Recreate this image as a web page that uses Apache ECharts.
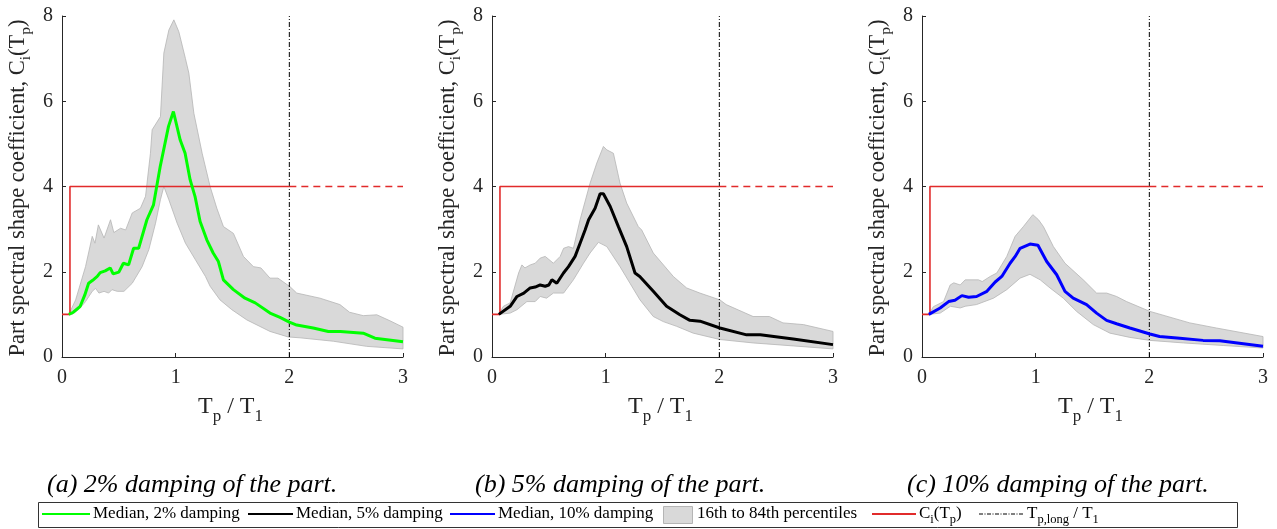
<!DOCTYPE html>
<html>
<head>
<meta charset="utf-8">
<script src="https://cdn.jsdelivr.net/npm/echarts@6/dist/echarts.min.js"></script>
<style>
html,body{margin:0;padding:0;background:#fff;}
#chart{width:1277px;height:529px;}
</style>
</head>
<body>
<div id="chart"></div>
<script>
// ---------- DATA ----------
// Tp/T1 vs. part spectral shape coefficient, pairs [Tp/T1, Ci]
const medianA = [[0.06,1.0],[0.10,1.05],[0.16,1.19],[0.20,1.45],[0.234,1.73],[0.27,1.80],[0.31,1.89],[0.336,1.98],[0.38,2.02],[0.424,2.09],[0.45,1.95],[0.50,1.99],[0.54,2.2],[0.586,2.16],[0.63,2.55],[0.674,2.55],[0.747,3.22],[0.805,3.57],[0.864,4.47],[0.937,5.41],[0.98,5.76],[1.04,5.09],[1.083,4.78],[1.127,4.16],[1.17,3.77],[1.215,3.18],[1.274,2.75],[1.33,2.44],[1.376,2.24],[1.42,1.81],[1.508,1.58],[1.61,1.38],[1.70,1.27],[1.83,1.03],[1.918,0.93],[2.0,0.82],[2.065,0.75],[2.21,0.68],[2.343,0.6],[2.45,0.6],[2.65,0.56],[2.753,0.44],[3.0,0.36]];
const upperA = [[0.06,1.0],[0.12,1.34],[0.207,2.12],[0.266,2.83],[0.29,2.67],[0.32,3.1],[0.37,2.79],[0.427,3.22],[0.456,2.92],[0.515,3.02],[0.56,2.98],[0.618,3.38],[0.69,3.49],[0.735,3.77],[0.778,4.78],[0.793,5.33],[0.866,5.64],[0.896,7.13],[0.94,7.67],[0.984,7.91],[1.028,7.63],[1.086,7.0],[1.116,6.66],[1.16,5.72],[1.233,4.78],[1.303,4.0],[1.362,3.49],[1.42,3.06],[1.508,2.9],[1.596,2.36],[1.684,2.12],[1.75,2.09],[1.83,1.85],[1.9,1.85],[2.006,1.65],[2.065,1.5],[2.27,1.38],[2.445,1.23],[2.53,1.05],[2.65,0.97],[2.77,0.99],[2.885,0.85],[3.0,0.7]];
const lowerA = [[0.06,1.0],[0.09,1.0],[0.15,1.12],[0.207,1.3],[0.266,1.54],[0.295,1.61],[0.325,1.5],[0.37,1.54],[0.41,1.5],[0.44,1.58],[0.486,1.54],[0.545,1.54],[0.618,1.73],[0.705,2.12],[0.764,2.52],[0.823,3.14],[0.866,3.69],[0.896,4.0],[0.94,3.69],[1.013,3.14],[1.086,2.67],[1.174,2.28],[1.262,1.89],[1.303,1.66],[1.39,1.34],[1.494,1.11],[1.626,0.87],[1.83,0.6],[1.99,0.47],[2.094,0.45],[2.387,0.37],[2.68,0.25],[3.0,0.19]];

const medianB = [[0.06,1.0],[0.16,1.19],[0.22,1.42],[0.28,1.5],[0.336,1.62],[0.38,1.64],[0.424,1.69],[0.468,1.66],[0.5,1.69],[0.527,1.81],[0.57,1.73],[0.629,1.97],[0.673,2.12],[0.731,2.36],[0.775,2.67],[0.819,2.98],[0.85,3.22],[0.907,3.49],[0.951,3.83],[0.98,3.83],[1.04,3.53],[1.112,3.06],[1.185,2.59],[1.258,1.97],[1.3,1.89],[1.419,1.54],[1.536,1.19],[1.653,0.99],[1.741,0.86],[1.83,0.84],[2.005,0.68],[2.24,0.52],[2.36,0.52],[2.65,0.42],[3.0,0.29]];
const upperB = [[0.06,1.0],[0.1,1.19],[0.16,1.27],[0.234,1.97],[0.263,2.16],[0.29,2.09],[0.336,2.16],[0.38,2.2],[0.424,2.32],[0.468,2.36],[0.54,2.2],[0.6,2.36],[0.63,2.55],[0.673,2.59],[0.716,2.55],[0.775,3.22],[0.863,4.08],[0.922,4.55],[0.98,4.94],[1.01,4.86],[1.068,4.78],[1.126,4.08],[1.185,3.61],[1.287,3.06],[1.317,2.98],[1.419,2.44],[1.595,1.89],[1.712,1.62],[1.829,1.5],[2.005,1.34],[2.06,1.23],[2.297,0.95],[2.44,0.95],[2.56,0.8],[2.74,0.76],[3.0,0.6]];
const lowerB = [[0.06,1.0],[0.16,1.03],[0.22,1.11],[0.307,1.3],[0.38,1.3],[0.424,1.42],[0.48,1.38],[0.54,1.5],[0.63,1.5],[0.716,1.81],[0.805,2.2],[0.863,2.44],[0.936,2.69],[1.01,2.59],[1.126,2.12],[1.214,1.73],[1.302,1.34],[1.419,0.95],[1.507,0.83],[1.624,0.72],[1.77,0.56],[2.005,0.41],[2.297,0.33],[2.65,0.26],[3.0,0.19]];

const medianC = [[0.06,1.0],[0.16,1.15],[0.234,1.3],[0.29,1.33],[0.351,1.44],[0.41,1.4],[0.48,1.42],[0.571,1.54],[0.644,1.76],[0.702,1.89],[0.775,2.2],[0.82,2.36],[0.863,2.55],[0.95,2.65],[1.02,2.62],[1.097,2.24],[1.185,1.93],[1.258,1.54],[1.33,1.38],[1.448,1.23],[1.536,1.03],[1.624,0.86],[1.712,0.78],[1.829,0.68],[2.005,0.54],[2.09,0.48],[2.268,0.44],[2.473,0.39],[2.62,0.38],[3.0,0.25]];
const upperC = [[0.06,1.0],[0.1,1.18],[0.19,1.3],[0.248,1.69],[0.28,1.74],[0.336,1.69],[0.38,1.81],[0.44,1.81],[0.497,1.81],[0.53,1.77],[0.6,1.89],[0.658,1.97],[0.746,2.36],[0.819,2.83],[0.892,3.06],[0.975,3.34],[1.025,3.22],[1.068,3.06],[1.156,2.59],[1.258,2.2],[1.419,1.81],[1.536,1.5],[1.624,1.5],[1.712,1.42],[1.8,1.3],[2.005,1.07],[2.356,0.8],[2.59,0.68],[3.0,0.48]];
const lowerC = [[0.06,1.0],[0.16,1.03],[0.25,1.19],[0.336,1.15],[0.38,1.19],[0.48,1.23],[0.629,1.38],[0.746,1.58],[0.863,1.85],[0.95,1.94],[1.04,1.81],[1.126,1.62],[1.243,1.38],[1.36,1.07],[1.507,0.76],[1.653,0.56],[1.829,0.46],[2.005,0.39],[2.3,0.33],[2.65,0.27],[3.0,0.21]];

// Ci(Tp) code curve: solid part and dashed extension
const ciSolid = [[0,1],[0.07,1],[0.07,4],[2,4]];
const ciDashed = [[2,4],[3,4]];
const tpLong = 2;

const xTicks = [0, 1, 2, 3];
const yTicks = [0, 2, 4, 6, 8];
const captions = ['(a) 2% damping of the part.', '(b) 5% damping of the part.', '(c) 10% damping of the part.'];
const legendNames = ['Median, 2% damping', 'Median, 5% damping', 'Median, 10% damping', '16th to 84th percentiles'];

// ---------- CHART ----------
const FONT = "'Liberation Serif', 'Times New Roman', serif";
const AX = '#262626';
const panels = [
  {median: medianA, upper: upperA, lower: lowerA, color: '#00ff00', left: 62, cap: 47},
  {median: medianB, upper: upperB, lower: lowerB, color: '#000000', left: 492, cap: 475},
  {median: medianC, upper: upperC, lower: lowerC, color: '#0000ff', left: 922, cap: 907}
];
const PW = 341, TOP = 16, PH = 341;

const grids = [], xAxes = [], yAxes = [], series = [], graphics = [];

panels.forEach((p, i) => {
  grids.push({left: p.left, top: TOP, width: PW, height: PH, containLabel: false});
  xAxes.push({
    gridIndex: i, type: 'value', min: xTicks[0], max: xTicks[xTicks.length - 1], interval: 1,
    axisLine: {lineStyle: {color: AX, width: 1}},
    axisTick: {inside: true, length: 4, lineStyle: {color: AX}},
    axisLabel: {color: AX, fontFamily: FONT, fontSize: 20, margin: 11},
    splitLine: {show: false}
  });
  yAxes.push({
    gridIndex: i, type: 'value', min: yTicks[0], max: yTicks[yTicks.length - 1], interval: 2,
    axisLine: {show: true, lineStyle: {color: AX, width: 1}},
    axisTick: {show: true, inside: true, length: 4, lineStyle: {color: AX}},
    axisLabel: {color: AX, fontFamily: FONT, fontSize: 20, margin: 9},
    splitLine: {show: false}
  });
  const up = p.upper, lo = p.lower;
  series.push({
    type: 'custom', xAxisIndex: i, yAxisIndex: i, silent: true, z: 1,
    data: [[0, 0]],
    renderItem: function (params, api) {
      const pts = up.map(d => api.coord(d)).concat(lo.slice().reverse().map(d => api.coord(d)));
      return {type: 'polygon', shape: {points: pts}, style: {fill: '#d9d9d9', stroke: '#b5b5b5', lineWidth: 0.8}};
    }
  });
  series.push({
    type: 'line', xAxisIndex: i, yAxisIndex: i, z: 2, symbol: 'none', animation: false,
    data: [[tpLong, yTicks[0]], [tpLong, yTicks[yTicks.length - 1]]],
    lineStyle: {color: '#000', width: 1, type: [5, 2, 1, 2]}
  });
  series.push({
    type: 'line', xAxisIndex: i, yAxisIndex: i, z: 3, symbol: 'none', animation: false,
    data: ciSolid, lineStyle: {color: '#e12b2b', width: 1.6}
  });
  series.push({
    type: 'line', xAxisIndex: i, yAxisIndex: i, z: 3, symbol: 'none', animation: false,
    data: ciDashed, lineStyle: {color: '#e12b2b', width: 1.6, type: [7, 5]}
  });
  series.push({
    type: 'line', xAxisIndex: i, yAxisIndex: i, z: 4, symbol: 'none', animation: false,
    data: p.median, lineStyle: {color: p.color, width: 3}
  });

  // y-axis title (rotated)
  graphics.push({
    type: 'text', x: p.left - 44, y: 188, rotation: Math.PI / 2,
    style: {
      text: '{m|Part spectral shape coefficient, C}{s|i}{m|(T}{s|p}{m|)}',
      align: 'center', verticalAlign: 'middle', fill: AX,
      rich: {
        m: {fontFamily: FONT, fontSize: 22.5, lineHeight: 32, verticalAlign: 'middle', fill: AX},
        s: {fontFamily: FONT, fontSize: 15.5, lineHeight: 15, verticalAlign: 'bottom', fill: AX}
      }
    }
  });
  // x-axis title
  graphics.push({
    type: 'text', x: p.left + PW / 2 - 2, y: 407,
    style: {
      text: '{m|T}{s|p}{m| / T}{s|1}',
      align: 'center', verticalAlign: 'middle', fill: AX,
      rich: {
        m: {fontFamily: FONT, fontSize: 24, lineHeight: 36, verticalAlign: 'middle', fill: AX},
        s: {fontFamily: FONT, fontSize: 17, lineHeight: 17, verticalAlign: 'bottom', fill: AX}
      }
    }
  });
  // caption
  graphics.push({
    type: 'text', x: p.cap, y: 485,
    style: {text: captions[i], fontFamily: FONT, fontStyle: 'italic', fontSize: 26, fill: '#000', align: 'left', verticalAlign: 'middle'}
  });
});

// legend box
const LY = 514;
graphics.push({type: 'rect', shape: {x: 38.5, y: 502.5, width: 1199, height: 25}, style: {fill: '#fff', stroke: '#333', lineWidth: 1}, z: 10});
function legLine(x1, x2, color, w, dash) {
  graphics.push({type: 'line', shape: {x1: x1, y1: LY, x2: x2, y2: LY}, style: {stroke: color, lineWidth: w, lineDash: dash || null}, z: 11});
}
function legText(x, txt, rich) {
  graphics.push({type: 'text', x: x, y: LY, z: 11, style: Object.assign({text: txt, fontFamily: FONT, fontSize: 17, fill: '#000', align: 'left', verticalAlign: 'middle'}, rich ? {rich: rich} : {})});
}
const legRich = {
  m: {fontFamily: FONT, fontSize: 17, lineHeight: 24, verticalAlign: 'middle', fill: '#000'},
  s: {fontFamily: FONT, fontSize: 12.5, lineHeight: 12, verticalAlign: 'bottom', fill: '#000'}
};
legLine(42, 90, '#00ff00', 2);
legText(93, legendNames[0]);
legLine(248, 293, '#000000', 2);
legText(296, legendNames[1]);
legLine(450, 495, '#0000ff', 2);
legText(498, legendNames[2]);
graphics.push({type: 'rect', shape: {x: 663.5, y: 506.5, width: 29, height: 17}, style: {fill: '#d9d9d9', stroke: '#b5b5b5', lineWidth: 1}, z: 11});
legText(697, legendNames[3]);
legLine(872, 916, '#e12b2b', 2);
legText(919, '{m|C}{s|i}{m|(T}{s|p}{m|)}', legRich);
legLine(979, 1023, '#000', 1, [4, 1.5, 1, 1.5]);
legText(1027, '{m|T}{s|p,long}{m| / T}{s|1}', legRich);

const chart = echarts.init(document.getElementById('chart'), null, {renderer: 'canvas'});
chart.setOption({
  animation: false,
  backgroundColor: '#fff',
  grid: grids, xAxis: xAxes, yAxis: yAxes, series: series, graphic: graphics
});
</script>
</body>
</html>
